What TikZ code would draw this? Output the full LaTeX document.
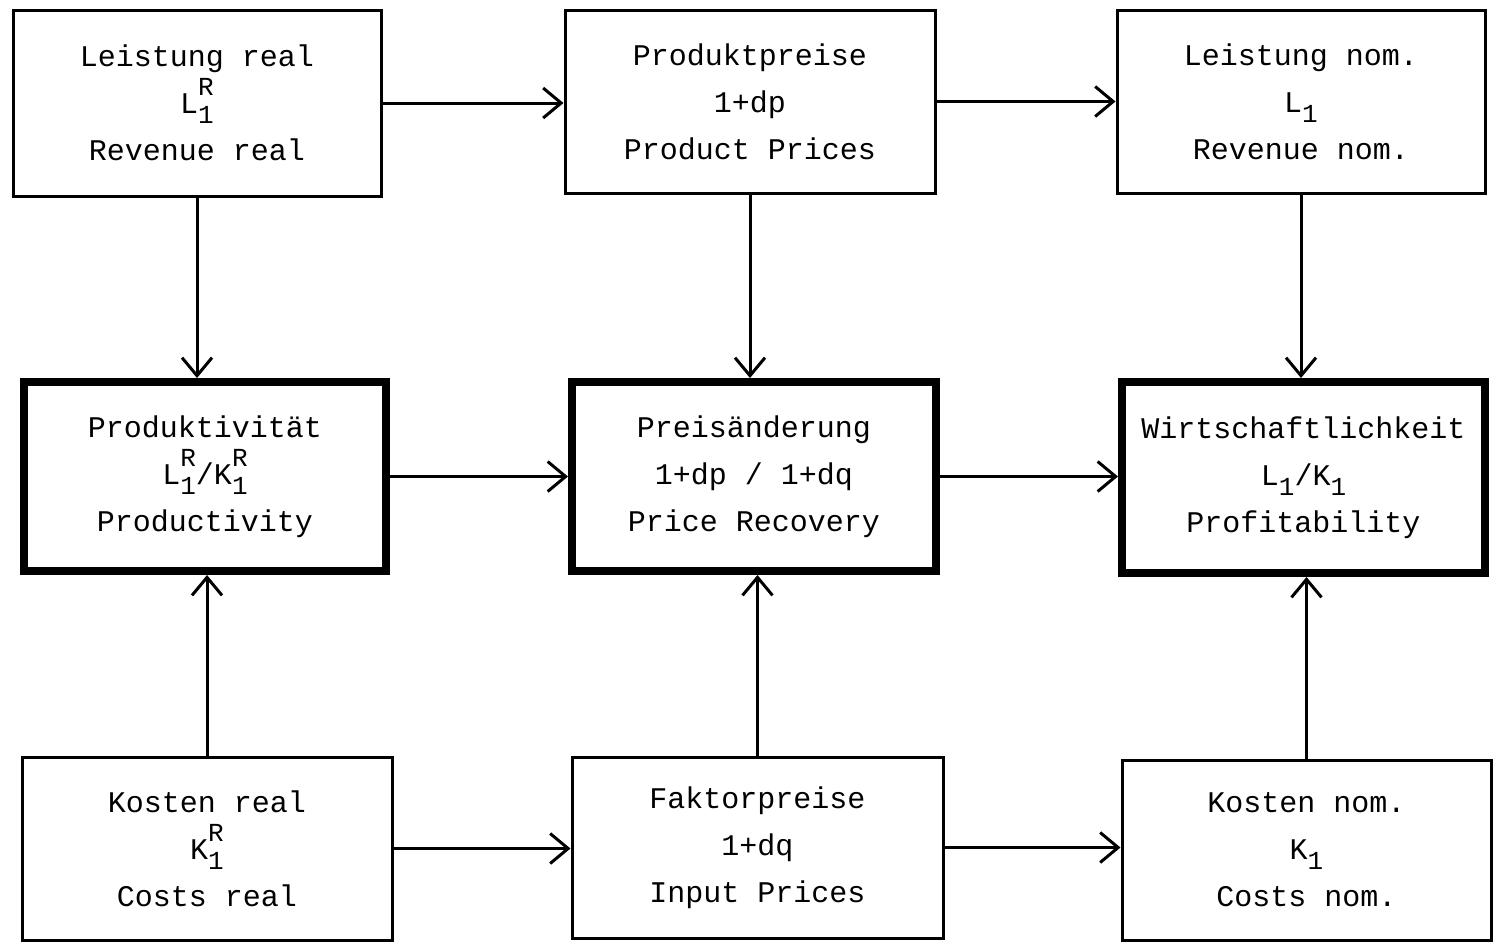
\documentclass[tikz,border=0pt]{standalone}
\usepackage{fontspec}
\setmonofont{Liberation Mono}
\usetikzlibrary{arrows.meta}
\newcommand\mylo[1]{\raisebox{-5pt}{\fontsize{13}{13}\selectfont #1}}
\newcommand\myhi[1]{\raisebox{9pt}{\fontsize{13}{13}\selectfont #1}}
\begin{document}
\begin{tikzpicture}[x=0.5pt,y=-0.5pt,
  box/.style={draw, line width=1.5pt, rectangle, inner sep=0pt, align=center,
    font=\ttfamily\fontsize{15}{23.5}\selectfont},
  thickbox/.style={box, line width=4pt},
  arr/.style={line width=1.5pt, -{Straight Barb[length=9pt,width=15pt,line width=1.5pt]}}]
\useasboundingbox (0,0) rectangle (1500,944);
% row 1
\node[box, minimum width=184pt, minimum height=93pt] (A) at (197,103)
  {Leistung real\\ L\rlap{\mylo{1}}\myhi{R}\\ Revenue real};
\node[box, minimum width=185pt, minimum height=91.5pt] (B) at (750,101.5)
  {Produktpreise\\ 1+dp\\ Product Prices};
\node[box, minimum width=184pt, minimum height=91.5pt] (C) at (1301,101.5)
  {Leistung nom.\\ L\mylo{1}\\ Revenue nom.};
% row 2
\node[thickbox, minimum width=181pt, minimum height=94.5pt] (D) at (205,476.5)
  {Produktivität\\ L\rlap{\mylo{1}}\myhi{R}/K\rlap{\mylo{1}}\myhi{R}\\ Productivity};
\node[thickbox, minimum width=182pt, minimum height=94.5pt] (E) at (754,476.5)
  {Preisänderung\\ 1+dp / 1+dq\\ Price Recovery};
\node[thickbox, minimum width=181.5pt, minimum height=95.5pt] (F) at (1303.5,477.5)
  {Wirtschaftlichkeit\\ L\mylo{1}/K\mylo{1}\\ Profitability};
% row 3
\node[box, minimum width=185pt, minimum height=91.5pt] (G) at (207,848.5)
  {Kosten real\\ K\rlap{\mylo{1}}\myhi{R}\\ Costs real};
\node[box, minimum width=185.5pt, minimum height=90.5pt] (H) at (757.5,847.5)
  {Faktorpreise\\ 1+dq\\ Input Prices};
\node[box, minimum width=184.5pt, minimum height=90pt] (I) at (1306.5,850)
  {Kosten nom.\\ K\mylo{1}\\ Costs nom.};
% horizontal arrows
\draw[arr] (A.east) -- (A.east -| B.west);
\draw[arr] (B.east) -- (B.east -| C.west);
\draw[arr] (D.east) -- (D.east -| E.west);
\draw[arr] (E.east) -- (E.east -| F.west);
\draw[arr] (G.east) -- (G.east -| H.west);
\draw[arr] (H.east) -- (H.east -| I.west);
% vertical arrows
\draw[arr] (A.south) -- (A.south |- D.north);
\draw[arr] (B.south) -- (B.south |- E.north);
\draw[arr] (C.south) -- (C.south |- F.north);
\draw[arr] (G.north) -- (G.north |- D.south);
\draw[arr] (H.north) -- (H.north |- E.south);
\draw[arr] (I.north) -- (I.north |- F.south);
\end{tikzpicture}
\end{document}
